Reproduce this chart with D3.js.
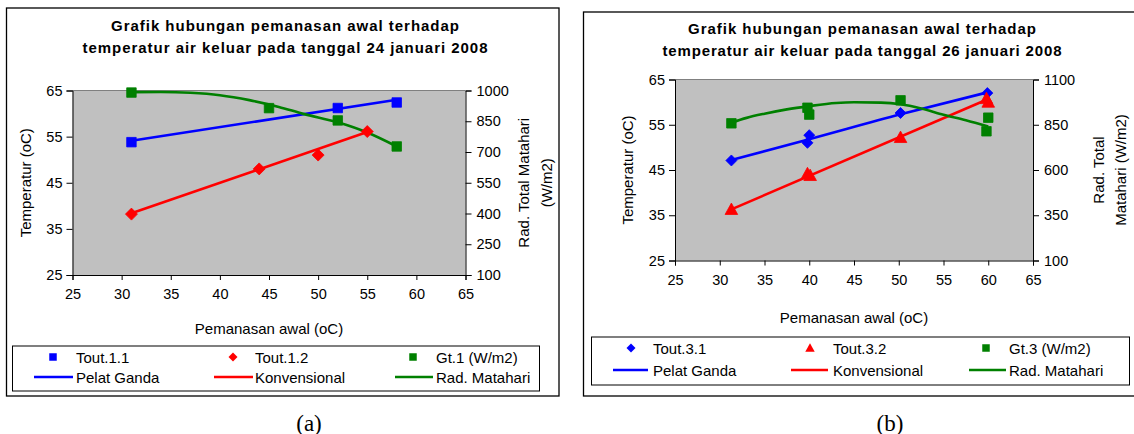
<!DOCTYPE html>
<html><head><meta charset="utf-8">
<script src="https://cdn.jsdelivr.net/npm/d3@7"></script>
<style>
html,body{margin:0;padding:0;background:#fff;}
svg{display:block;font-family:"Liberation Sans",Arial,sans-serif;}
</style></head>
<body>
<svg id="chart" width="1134" height="434"></svg>
<script>
// ---------- DATA ----------
const xTicks = [25, 30, 35, 40, 45, 50, 55, 60, 65];
const tempTicks = [25, 35, 45, 55, 65];
const radTicksA = [100, 250, 400, 550, 700, 850, 1000];
const radTicksB = [100, 350, 600, 850, 1100];

const titleA = ["Grafik hubungan pemanasan awal terhadap", "temperatur air keluar  pada tanggal 24 januari 2008"];
const titleB = ["Grafik hubungan pemanasan awal terhadap", "temperatur air keluar pada tanggal 26 januari 2008"];
const xTitle = "Pemanasan awal (oC)";
const yTitle = "Temperatur (oC)";
const radTitleA = ["Rad. Total Matahari", "(W/m2)"];
const radTitleB = ["Rad. Total", "Matahari (W/m2)"];

// Panel (a) : 24 januari 2008
const tout11 = [[31, 53.8], [52, 61.2], [58, 62.4]];
const tout12 = [[31, 38.2], [44, 48.0], [50, 51.0], [55, 56.1]];
const gt1 = [[31, 990], [45, 914], [52, 854], [58, 727]];
const pelatGandaA = [[31, 54.1], [58, 63.0]];
const konvensionalA = [[31, 38.4], [55, 56.0]];
const radMatahariA = [[31, 992], [34, 993], [37, 989], [40, 977], [43, 953], [46, 920], [48.5, 886], [52, 845], [55, 795], [58, 727]];
const legendA = ["Tout.1.1", "Tout.1.2", "Gt.1 (W/m2)", "Pelat Ganda", "Konvensional", "Rad. Matahari"];

// Panel (b) : 26 januari 2008
const tout31 = [[31.3, 47.1], [39.8, 51.0], [40.0, 52.7], [50.2, 57.6], [59.9, 62.0]];
const tout32 = [[31.3, 36.3], [39.8, 44.2], [40.1, 43.8], [50.2, 52.2], [59.8, 60.8], [60.0, 60.0]];
const gt3 = [[31.3, 858], [39.8, 944], [40.0, 906], [50.2, 985], [59.8, 814], [60.0, 889]];
const pelatGandaB = [[31.3, 47.2], [40, 51.8], [50.2, 57.3], [60, 62.2]];
const konvensionalB = [[31.3, 36.3], [60, 60.7]];
const radMatahariB = [[31.3, 862], [33, 888], [35, 911], [37.5, 935], [40, 953], [43, 970], [45, 974], [48, 972], [50.2, 963], [52.5, 940], [55, 905], [57.5, 875], [60, 840]];
const legendB = ["Tout.3.1", "Tout.3.2", "Gt.3 (W/m2)", "Pelat Ganda", "Konvensional", "Rad. Matahari"];

const captions = ["(a)", "(b)"];

// ---------- DRAWING ----------
const BLUE = "#0000FF", RED = "#FF0000", GREEN = "#008000";
const svg = d3.select("#chart");

function markerPath(type, s) {
  const h = s / 2;
  if (type === "square") return `M${-h},${-h}H${h}V${h}H${-h}Z`;
  if (type === "diamond") return `M0,${-h}L${h},0L0,${h}L${-h},0Z`;
  if (type === "triangle") return `M0,${-h * 1.05}L${h * 1.05},${h * 0.85}L${-h * 1.05},${h * 0.85}Z`;
}

function drawPanel(cfg) {
  const g = svg.append("g");
  g.append("rect").attr("x", cfg.border[0]).attr("y", cfg.border[1])
    .attr("width", cfg.border[2]).attr("height", cfg.border[3])
    .attr("fill", "#fff").attr("stroke", "#000").attr("stroke-width", 1.3);

  cfg.title.forEach((t, i) => {
    g.append("text").attr("x", cfg.titleX).attr("y", cfg.titleY[i])
      .attr("text-anchor", "middle").attr("dominant-baseline", "central")
      .attr("font-size", 15).attr("font-weight", "bold")
      .attr("textLength", cfg.titleW[i]).attr("lengthAdjust", "spacing")
      .text(t);
  });

  const x = d3.scaleLinear().domain([25, 65]).range([cfg.plot.l, cfg.plot.r]);
  const yT = d3.scaleLinear().domain([25, 65]).range([cfg.plot.b, cfg.plot.t]);
  const yR = d3.scaleLinear().domain(cfg.radDomain).range([cfg.plot.b, cfg.plot.t]);

  g.append("rect").attr("x", cfg.plot.l).attr("y", cfg.plot.t)
    .attr("width", cfg.plot.r - cfg.plot.l).attr("height", cfg.plot.b - cfg.plot.t)
    .attr("fill", "#C0C0C0");
  g.append("line").attr("x1", cfg.plot.l).attr("x2", cfg.plot.r)
    .attr("y1", cfg.plot.t).attr("y2", cfg.plot.t).attr("stroke", "#808080");

  const fmt = d3.format("d");
  const ax = g.append("g").attr("transform", `translate(0,${cfg.plot.b})`)
    .call(d3.axisBottom(x).tickValues(xTicks).tickFormat(fmt).tickSize(5).tickPadding(9));
  const al = g.append("g").attr("transform", `translate(${cfg.plot.l},0)`)
    .call(d3.axisLeft(yT).tickValues(tempTicks).tickFormat(fmt).tickSize(6).tickPadding(4));
  const ar = g.append("g").attr("transform", `translate(${cfg.plot.r},0)`)
    .call(d3.axisRight(yR).tickValues(cfg.radTicks).tickFormat(fmt).tickSize(6).tickPadding(5));
  [ax, al, ar].forEach(a => {
    a.attr("font-family", null).attr("font-size", null);
    a.selectAll("text").attr("font-size", 14.5).attr("fill", "#000");
    a.selectAll("path.domain, line").attr("stroke", "#000");
  });

  g.append("text").attr("x", (cfg.plot.l + cfg.plot.r) / 2).attr("y", cfg.xTitleY)
    .attr("text-anchor", "middle").attr("dominant-baseline", "central")
    .attr("font-size", 15).text(xTitle);
  const cy = (cfg.plot.t + cfg.plot.b) / 2;
  g.append("text").attr("transform", `translate(${cfg.yTitleX},${cy}) rotate(-90)`)
    .attr("text-anchor", "middle").attr("dominant-baseline", "central")
    .attr("font-size", 15).text(yTitle);
  cfg.radTitle.forEach((t, i) => {
    g.append("text").attr("transform", `translate(${cfg.radTitleX[i]},${cy}) rotate(-90)`)
      .attr("text-anchor", "middle").attr("dominant-baseline", "central")
      .attr("font-size", 15).text(t);
  });

  const lineT = d3.line().x(d => x(d[0])).y(d => yT(d[1]));
  const lineR = d3.line().x(d => x(d[0])).y(d => yR(d[1])).curve(d3.curveMonotoneX);
  const lineT2 = d3.line().x(d => x(d[0])).y(d => yT(d[1])).curve(d3.curveMonotoneX);
  const plotG = g.append("g");
  cfg.series.forEach(s => {
    const gen = s.axis === "rad" ? lineR : (s.line.length > 2 ? lineT2 : lineT);
    plotG.append("path").datum(s.line).attr("d", gen)
      .attr("fill", "none").attr("stroke", s.color).attr("stroke-width", 2.6);
  });
  cfg.series.forEach(s => {
    const ys = s.axis === "rad" ? yR : yT;
    plotG.selectAll(null).data(s.points).enter().append("path")
      .attr("transform", d => `translate(${x(d[0])},${ys(d[1])})`)
      .attr("d", markerPath(s.marker, s.size))
      .attr("fill", s.color).attr("stroke", s.color).attr("stroke-width", 0.8);
  });

  const L = cfg.legend;
  g.append("rect").attr("x", L.box[0]).attr("y", L.box[1])
    .attr("width", L.box[2]).attr("height", L.box[3])
    .attr("fill", "#fff").attr("stroke", "#000").attr("stroke-width", 1);
  cfg.series.forEach((s, i) => {
    g.append("path").attr("transform", `translate(${L.markX[i]},${L.rows[0]})`)
      .attr("d", markerPath(s.marker, s.legendSize)).attr("fill", s.color);
    g.append("text").attr("x", L.textX[i]).attr("y", L.rows[0])
      .attr("dominant-baseline", "central").attr("font-size", 15).text(cfg.legendLabels[i]);
    g.append("line").attr("x1", L.lineX[i][0]).attr("x2", L.lineX[i][1])
      .attr("y1", L.rows[1]).attr("y2", L.rows[1])
      .attr("stroke", s.color).attr("stroke-width", 2.6);
    g.append("text").attr("x", L.textX[i]).attr("y", L.rows[1])
      .attr("dominant-baseline", "central").attr("font-size", 15).text(cfg.legendLabels[i + 3]);
  });

  g.append("text").attr("x", cfg.caption[0]).attr("y", cfg.caption[1])
    .attr("text-anchor", "middle").attr("dominant-baseline", "central")
    .attr("font-family", "'Liberation Serif','Times New Roman',serif")
    .attr("font-size", 23).text(cfg.captionText);
}

drawPanel({
  border: [6.5, 8, 552.5, 388],
  title: titleA, titleX: 285, titleY: [25, 47], titleW: [348, 405],
  plot: { l: 72.5, r: 465.5, t: 90.5, b: 275 },
  radDomain: [100, 1000], radTicks: radTicksA,
  xTitleY: 328, yTitleX: 25, radTitle: radTitleA, radTitleX: [523, 546],
  series: [
    { points: tout11, line: pelatGandaA, color: BLUE, marker: "square", size: 9.5, legendSize: 7.5, axis: "temp" },
    { points: tout12, line: konvensionalA, color: RED, marker: "diamond", size: 12, legendSize: 9, axis: "temp" },
    { points: gt1, line: radMatahariA, color: GREEN, marker: "square", size: 9.5, legendSize: 7.5, axis: "rad" }
  ],
  legendLabels: legendA,
  legend: { box: [12.5, 346, 527, 45], rows: [357, 377],
            markX: [53, 233, 413], textX: [76, 255, 436],
            lineX: [[34, 73], [214, 253], [395, 433]] },
  caption: [309, 423], captionText: captions[0]
});

drawPanel({
  border: [583.5, 12, 560, 384],
  title: titleB, titleX: 862, titleY: [28, 50], titleW: [348, 399],
  plot: { l: 675, r: 1033, t: 79.5, b: 260.5 },
  radDomain: [100, 1100], radTicks: radTicksB,
  xTitleY: 317, yTitleX: 627, radTitle: radTitleB, radTitleX: [1098, 1120],
  series: [
    { points: tout31, line: pelatGandaB, color: BLUE, marker: "diamond", size: 11, legendSize: 9, axis: "temp" },
    { points: tout32, line: konvensionalB, color: RED, marker: "triangle", size: 12, legendSize: 9, axis: "temp" },
    { points: gt3, line: radMatahariB, color: GREEN, marker: "square", size: 9.5, legendSize: 7.5, axis: "rad" }
  ],
  legendLabels: legendB,
  legend: { box: [591.5, 337, 538, 48], rows: [348, 370],
            markX: [631, 810, 986], textX: [653, 833, 1009],
            lineX: [[613, 648], [791, 828], [969, 1006]] },
  caption: [890, 423], captionText: captions[1]
});
</script>
</body></html>
